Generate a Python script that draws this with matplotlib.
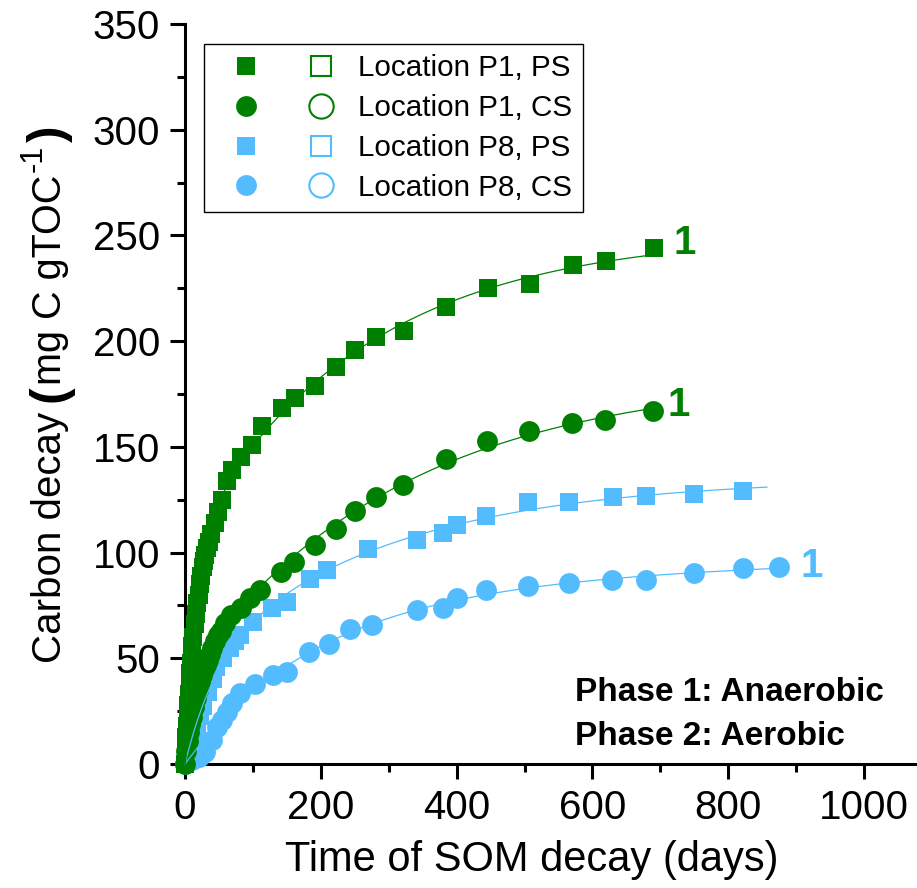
import numpy as np
import matplotlib
matplotlib.use("Agg")
import matplotlib.pyplot as plt
from matplotlib.lines import Line2D
from matplotlib.legend_handler import HandlerTuple
from matplotlib.transforms import IdentityTransform

plt.rcParams['font.family'] = ['Liberation Sans', 'DejaVu Sans']

GREEN = '#008000'
BLUE = '#52BCFF'

# ---- measured cumulative carbon decay (mg C gTOC^-1) vs. time (days) ----
p1_ps_days = [0, 1, 2, 3, 4, 5, 6, 7, 8, 9, 10, 11, 12, 14, 16, 18, 20, 22, 24, 26,
              28, 30, 32, 35, 39, 44, 49, 55, 62, 69, 83, 98, 113, 143, 162, 192,
              223, 251, 282, 322, 385, 446, 508, 571, 620, 691]
p1_ps_vals = [0, 7, 13, 18, 23, 28, 33, 38, 43, 48, 52, 56, 60, 66, 71, 76, 80, 85, 89, 93,
              96, 99, 102, 105, 109, 114, 119, 125, 134, 139, 145, 151, 160, 168.5, 173, 179,
              188, 196, 202, 205, 216, 225, 227, 236, 238, 244]

p1_cs_days = [0, 2, 4, 6, 8, 10, 13, 16, 19, 22, 25, 28, 31, 34, 37, 40, 44, 48, 53, 58.5,
              68, 82.5, 96, 110.5, 141, 160, 191.5, 222, 250, 282, 321, 384, 445, 506,
              569.5, 619, 689.5]
p1_cs_vals = [0, 6, 11, 15, 19, 22, 27, 31, 35, 39, 42, 45, 47, 49, 52, 55, 58, 61, 63, 66.5,
              70.5, 73.6, 78.4, 82.3, 91, 95.7, 103.5, 111, 119.5, 126.4, 132, 144.3, 153, 157.5,
              161.5, 162.7, 167]

p8_ps_days = [0, 3, 7, 10, 14, 18, 22, 27, 34, 41, 46, 56, 66, 73, 81, 100, 128, 150, 184,
              209, 270, 341, 380, 400, 444, 505, 565, 630, 679, 750, 822]
p8_ps_vals = [0, 3, 7, 10, 14, 18, 22.5, 27.5, 34, 40, 46, 50, 55, 58, 61, 67, 73.6, 76.8, 87.5,
              91.8, 101.5, 106, 109.4, 113, 117.3, 124, 124, 126.4, 126.8, 127.9, 129.1]

p8_cs_days = [0, 10, 20, 30, 40, 47, 54, 62, 69, 81, 103, 130, 150, 183, 212, 243, 275, 341,
              380, 400, 444, 505, 565, 629, 679, 750, 822, 875]
p8_cs_vals = [0, 2, 3.5, 5.5, 11.4, 17.6, 20.8, 24.7, 28.7, 33.4, 38, 42, 43.6, 53, 56.6, 64,
              65.7, 72.8, 73.6, 78.4, 82.3, 84.3, 85.4, 87, 87, 90.4, 92.5, 93]

# last day of each fitted curve
fit_end_days = {'p1_ps': 691, 'p1_cs': 690, 'p8_ps': 857, 'p8_cs': 885}

legend_labels = ['Location P1, PS', 'Location P1, CS', 'Location P8, PS', 'Location P8, CS']

SQ_MS, CI_MS = 13.6, 15.0


def two_pool_fit(t, y):
    """Least-squares fit of C(t) = A1(1-exp(-k1 t)) + A2(1-exp(-k2 t))."""
    t = np.asarray(t, float)
    y = np.asarray(y, float)
    best = None
    for k1 in np.logspace(-2.6, 0.5, 70):
        for k2 in np.logspace(-4.5, -1.5, 70):
            if k2 >= k1:
                continue
            X = np.column_stack([1 - np.exp(-k1 * t), 1 - np.exp(-k2 * t)])
            coef, *_ = np.linalg.lstsq(X, y, rcond=None)
            if (coef < 0).any():
                continue
            r = float(((X @ coef - y) ** 2).sum())
            if best is None or r < best[0]:
                best = (r, k1, k2, coef)
    _, k1, k2, (a1, a2) = best
    return lambda tt: a1 * (1 - np.exp(-k1 * tt)) + a2 * (1 - np.exp(-k2 * tt))


fig = plt.figure(figsize=(9.17, 8.88), dpi=100)
ax = fig.add_axes([185 / 917, 124 / 888, 732 / 917, 740 / 888])

series = [
    ('p8_cs', p8_cs_days, p8_cs_vals, 'o', BLUE, CI_MS),
    ('p8_ps', p8_ps_days, p8_ps_vals, 's', BLUE, SQ_MS),
    ('p1_cs', p1_cs_days, p1_cs_vals, 'o', GREEN, CI_MS),
    ('p1_ps', p1_ps_days, p1_ps_vals, 's', GREEN, SQ_MS),
]

for key, d, v, mk, col, ms in series:
    ax.plot(d, v, linestyle='none', marker=mk, color=col, ms=ms, mew=0,
            clip_on=False, zorder=3)

for key, d, v, mk, col, ms in series:
    f = two_pool_fit(d, v)
    tt = np.linspace(0, fit_end_days[key], 400)
    ax.plot(tt, f(tt), color=col, lw=0.9, zorder=4, clip_on=False)

# curve tags
tag_style = dict(fontsize=29, fontweight='bold', ha='center', va='center', zorder=5)
ax.text(736.5, 246.5, '1', color=GREEN, **tag_style)
ax.text(727.5, 170, '1', color=GREEN, **tag_style)
ax.text(923, 93.7, '1', color=BLUE, **tag_style)

ax.text(0.533, 0.096, 'Phase 1: Anaerobic', transform=ax.transAxes, fontsize=24,
        fontweight='bold', va='center', ha='left')
ax.text(0.533, 0.0365, 'Phase 2: Aerobic', transform=ax.transAxes, fontsize=24,
        fontweight='bold', va='center', ha='left')

ax.set_xlim(0, 1078)
ax.set_ylim(0, 350)
ax.set_xticks([0, 200, 400, 600, 800, 1000])
ax.set_xticks([100, 300, 500, 700, 900], minor=True)
ax.set_yticks(np.arange(0, 351, 50))
ax.set_yticks(np.arange(25, 350, 50), minor=True)
for s in ['top', 'right']:
    ax.spines[s].set_visible(False)
for s in ['left', 'bottom']:
    ax.spines[s].set_linewidth(2.2)
ax.tick_params(which='major', direction='out', length=11, width=2.2, labelsize=29, pad=7)
ax.tick_params(which='minor', direction='out', length=6, width=2.2)

fig.text(532 / 917, 1 - 860 / 888, 'Time of SOM decay (days)', fontsize=30,
         ha='center', va='center')

# y-axis title assembled from pieces: narrow title, bold parentheses, superscript unit
renderer = fig.canvas.get_renderer()
base_x = 61
pieces = [
    # text, size, weight, family, baseline shift (px, leftwards), gap after (px)
    ('Carbon decay', 29, 'normal', ['Liberation Sans Narrow', 'Liberation Sans'], 0, 9),
    ('(', 36, 'bold', ['Liberation Sans'], -2, 1),
    ('mg C gTOC', 28.5, 'normal', ['Liberation Sans'], 0, 2),
    ('-1', 22, 'normal', ['Liberation Sans'], 19, 3),
    (')', 36, 'bold', ['Liberation Sans'], -2, 0),
]
texts = []
total = 0.0
for s, size, weight, fam, shift, gap in pieces:
    t = fig.text(0, 0, s, fontsize=size, fontweight=weight, family=fam, rotation=90,
                 rotation_mode='anchor', ha='left', va='baseline',
                 transform=IdentityTransform())
    h = t.get_window_extent(renderer).height
    texts.append((t, h, shift, gap))
    total += h + gap
y = (888 - 394) - total / 2
for t, h, shift, gap in texts:
    t.set_position((base_x - shift, y))
    y += h + gap

# legend: filled and open symbol for each series
handles = []
for col, mk, ms, hms in [(GREEN, 's', SQ_MS, 15.0), (GREEN, 'o', CI_MS, 17.5),
                         (BLUE, 's', SQ_MS, 15.0), (BLUE, 'o', CI_MS, 17.5)]:
    filled = Line2D([], [], linestyle='none', marker=mk, color=col, ms=ms, mew=0)
    hollow = Line2D([], [], linestyle='none', marker=mk, mfc='white', mec=col,
                    ms=hms, mew=1.5)
    handles.append((filled, hollow))

leg = ax.legend(handles, legend_labels,
                handler_map={tuple: HandlerTuple(ndivide=None, pad=0.355)},
                loc='upper left', bbox_to_anchor=((204 - 185) / 732, (764 - 44) / 740),
                borderaxespad=0, fontsize=21.3, handlelength=4.68, handletextpad=0.186,
                borderpad=0.35, labelspacing=0.4, fancybox=False, framealpha=1,
                edgecolor='black', numpoints=1)
leg.get_frame().set_linewidth(1.0)

fig.savefig('out.png', dpi=100)
